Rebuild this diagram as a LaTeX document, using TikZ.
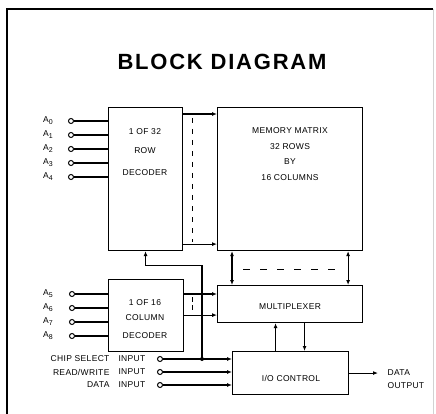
\documentclass[tikz,border=0pt]{standalone}
\usepackage{fontspec}
\setmainfont{Liberation Sans}[LetterSpace=4]
\newfontfamily\titlefont{Liberation Sans}[LetterSpace=8]
\usetikzlibrary{arrows.meta}
\newcommand{\asub}[1]{A\raisebox{-2pt}{\fontsize{7}{7}\selectfont #1}}

\begin{document}
\begin{tikzpicture}[x=1pt,y=-1pt,line width=1.1pt,>={Latex[length=5pt,width=4pt]},
    blk/.style={draw,anchor=north west,inner sep=0pt},
    txt/.style={font=\fontsize{8.5}{10}\selectfont,inner sep=0pt},
    pin/.style={draw,circle,fill=white,inner sep=0pt,minimum size=5pt,line width=1pt},
    dsh/.style={line width=0.9pt,dash pattern=on 5pt off 6pt}]
        \useasboundingbox (0,0) rectangle (436,414);
        % frame
        \draw[line width=2.2pt] (7,414) -- (7,9) -- (433,9);
        \draw[gray!35,line width=0.6pt] (433,9) -- (433,414);
        \node[font=\titlefont\bfseries\fontsize{22}{24}\selectfont,inner sep=0pt] (title) at (222,62) {BLOCK DIAGRAM};
        % blocks
        \node[blk,minimum width=74pt,minimum height=143pt] (rowdec) at (108,107) {};
        \node[blk,minimum width=145pt,minimum height=143pt] (memmat) at (217,107) {};
        \node[blk,minimum width=75pt,minimum height=72pt] (coldec) at (108,279) {};
        \node[blk,minimum width=145pt,minimum height=37pt] (mux) at (217,285) {};
        \node[blk,minimum width=116pt,minimum height=43pt] (ioctl) at (232,351) {};
        % block texts
        \node[txt] (rowa) at (145,132) {1 OF 32};
        \node[txt] (rowb) at (145,151) {ROW};
        \node[txt] (rowc) at (145,173) {DECODER};
        \node[txt] (mema) at (290,131) {MEMORY MATRIX};
        \node[txt] (memb) at (290,147) {32 ROWS};
        \node[txt] (memc) at (290,162) {BY};
        \node[txt] (memd) at (290,178) {16 COLUMNS};
        \node[txt] (cola) at (145,303) {1 OF 16};
        \node[txt] (colb) at (145,318) {COLUMN};
        \node[txt] (colc) at (145,336) {DECODER};
        \node[txt] (muxt) at (290,307) {MULTIPLEXER};
        \node[txt] (iot) at (291,378) {I/O CONTROL};
        % row address inputs
        \node[pin] (a0) at (71,121) {};
        \node[pin] (a1) at (71,135) {};
        \node[pin] (a2) at (71,149) {};
        \node[pin] (a3) at (71,163) {};
        \node[pin] (a4) at (71,177) {};
        \node[txt] (la0) at (48,121) {\asub{0}};
        \node[txt] (la1) at (48,135) {\asub{1}};
        \node[txt] (la2) at (48,149) {\asub{2}};
        \node[txt] (la3) at (48,163) {\asub{3}};
        \node[txt] (la4) at (48,177) {\asub{4}};
        \draw (a0) -- (a0 -| rowdec.west);
        \draw (a1) -- (a1 -| rowdec.west);
        \draw (a2) -- (a2 -| rowdec.west);
        \draw (a3) -- (a3 -| rowdec.west);
        \draw (a4) -- (a4 -| rowdec.west);
        % column address inputs
        \node[pin] (a5) at (72,294) {};
        \node[pin] (a6) at (72,308) {};
        \node[pin] (a7) at (72,322) {};
        \node[pin] (a8) at (72,336) {};
        \node[txt] (la5) at (48,294) {\asub{5}};
        \node[txt] (la6) at (48,308) {\asub{6}};
        \node[txt] (la7) at (48,322) {\asub{7}};
        \node[txt] (la8) at (48,336) {\asub{8}};
        \draw (a5) -- (a5 -| coldec.west);
        \draw (a6) -- (a6 -| coldec.west);
        \draw (a7) -- (a7 -| coldec.west);
        \draw (a8) -- (a8 -| coldec.west);
        % control inputs
        \node[pin] (cs) at (160,359) {};
        \node[pin] (rw) at (160,372) {};
        \node[pin] (din) at (160,385) {};
        \node[txt,anchor=east] (lcs) at (110,359) {CHIP SELECT};
        \node[txt,anchor=east] (lrw) at (110,372) {READ/WRITE};
        \node[txt,anchor=east] (ldin) at (110,385) {DATA};
        \node[txt,anchor=west] (ics) at (118,359) {INPUT};
        \node[txt,anchor=west] (irw) at (118,372) {INPUT};
        \node[txt,anchor=west] (idin) at (118,385) {INPUT};
        \draw[->] (cs) -- (cs -| ioctl.west);
        \draw[->] (rw) -- (rw -| ioctl.west);
        \draw[->] (din) -- (din -| ioctl.west);
        \coordinate (jn) at (202,359);
        \fill (jn) circle (2pt);
        \draw[->] (jn) |- ([yshift=-14pt]rowdec.south) -- (rowdec.south);
        % decoders to matrix and multiplexer
        \draw[->] ([yshift=-7pt]rowdec.north east) -- ([yshift=-7pt]memmat.north west);
        \draw[->] ([yshift=7pt]rowdec.south east) -- ([yshift=7pt]memmat.south west);
        \draw[dsh] (192,118) -- (192,242);
        \draw[->] ([yshift=-9pt]coldec.east |- mux.north) -- ([yshift=-9pt]mux.north west);
        \draw[->] ([yshift=8pt]coldec.east |- mux.south) -- ([yshift=8pt]mux.south west);
        \draw[line width=0.9pt,dash pattern=on 5pt off 3pt] (192,297) -- (192,311);
        % matrix <-> multiplexer
        \draw[<->] ([xshift=15pt]memmat.south west) -- ([xshift=15pt]mux.north west);
        \draw[<->] ([xshift=-15pt]memmat.south east) -- ([xshift=-15pt]mux.north east);
        \draw[line width=0.9pt,dash pattern=on 7pt off 10pt] (243,269) -- (338,269);
        % multiplexer <-> I/O control
        \draw[->] ([xshift=-15pt]ioctl.north) -- ([xshift=-15pt]ioctl.north |- mux.south);
        \draw[->] ([xshift=14pt]ioctl.north |- mux.south) -- ([xshift=14pt]ioctl.north);
        % data output
        \node[txt,anchor=west,align=left,font=\fontsize{8.5}{13}\selectfont] (dout) at (387,379) {DATA\\OUTPUT};
        \draw[->] (ioctl.east) -- ([xshift=-9pt]dout.west |- ioctl.east);
    \end{tikzpicture}
\end{document}
